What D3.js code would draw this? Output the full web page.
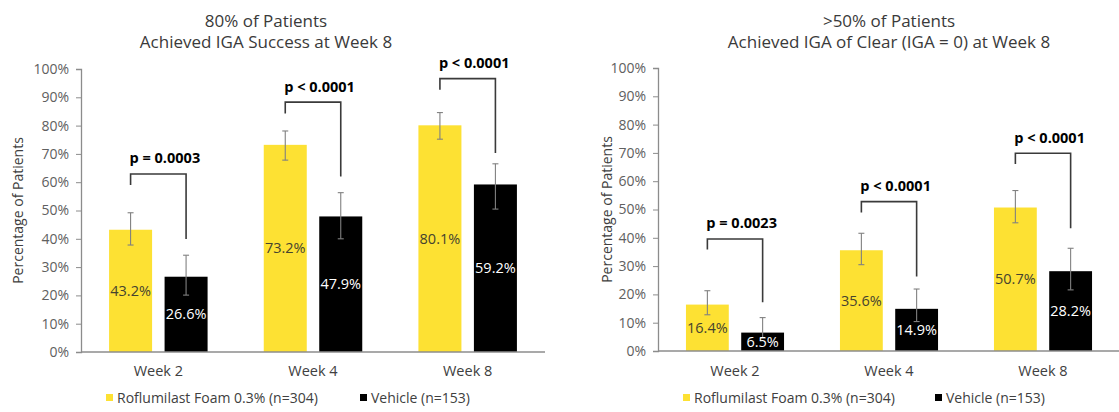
<!DOCTYPE html>
<html>
<head>
<meta charset="utf-8">
<script src="https://cdn.jsdelivr.net/npm/d3@7"></script>
<style>
  html, body { margin: 0; padding: 0; background: #fff; }
  svg { display: block; font-family: "Open Sans", "Noto Sans", sans-serif; }
</style>
</head>
<body>
<svg id="chart" width="1119" height="412"></svg>
<script>
// Shared categories, series and ticks
const weeks = ["Week 2", "Week 4", "Week 8"];
const seriesNames = ["Roflumilast Foam 0.3% (n=304)", "Vehicle (n=153)"];
const tickValues = [0, 10, 20, 30, 40, 50, 60, 70, 80, 90, 100];

// Panel A: IGA success
const successTitle = ["80% of Patients", "Achieved IGA Success at Week 8"];
const successFoam = [43.2, 73.2, 80.1];
const successVehicle = [26.6, 47.9, 59.2];
const successFoamCI = [[37.8, 49.2], [67.8, 78.1], [75.2, 84.6]];
const successVehicleCI = [[20.1, 34.2], [40.0, 56.3], [50.5, 66.5]];
const successP = ["p = 0.0003", "p < 0.0001", "p < 0.0001"];
// bracket levels: [top, foam end, vehicle end]
const successBracket = [[62.9, 59.0, 39.9], [88.3, 84.3, 62.0], [96.6, 92.7, 70.3]];

// Panel B: IGA of clear
const clearTitle = [">50% of Patients", "Achieved IGA of Clear (IGA = 0) at Week 8"];
const clearFoam = [16.4, 35.6, 50.7];
const clearVehicle = [6.5, 14.9, 28.2];
const clearFoamCI = [[12.8, 21.3], [30.5, 41.6], [45.3, 56.7]];
const clearVehicleCI = [[4.5, 11.8], [10.4, 21.9], [21.6, 36.3]];
const clearP = ["p = 0.0023", "p < 0.0001", "p < 0.0001"];
const clearBracket = [[39.6, 35.9, 17.2], [52.8, 48.9, 26.3], [69.9, 66.1, 43.4]];

const colors = ["#fde133", "#000000"];
const labelColors = ["#45432f", "#ffffff"];

const svg = d3.select("#chart");

function drawPanel(cfg) {
  const g = svg.append("g");
  const y = d3.scaleLinear().domain([0, 100]).range([cfg.yBottom, cfg.yTop]);
  const x0 = d3.scaleBand().domain(weeks).range([cfg.xLeft, cfg.xRight]).padding(0);
  const x1 = d3.scaleBand().domain([0, 1]).range([0, x0.bandwidth()])
    .paddingInner(0.225).paddingOuter(0.506);

  // title
  const title = g.append("text").attr("text-anchor", "middle")
    .attr("fill", "#3a3a3a").style("font-size", "17px");
  cfg.title.forEach((line, i) => {
    title.append("tspan").attr("x", cfg.titleX).attr("y", 26.5 + i * 21).text(line);
  });

  // y axis
  const yAxis = g.append("g").attr("transform", `translate(${cfg.xLeft},0)`)
    .call(d3.axisLeft(y).tickValues(tickValues).tickFormat(d => d + "%").tickSize(5).tickPadding(7));
  yAxis.select(".domain").attr("stroke", "#8c8c8c").attr("stroke-width", 1.3);
  yAxis.selectAll(".tick line").attr("stroke", "#8c8c8c");
  yAxis.selectAll(".tick text").attr("fill", "#606060").style("font-size", "14px")
    .style("font-family", "'Open Sans', sans-serif");

  g.append("text")
    .attr("transform", `translate(${cfg.yLabelX},${(cfg.yTop + cfg.yBottom) / 2}) rotate(-90)`)
    .attr("text-anchor", "middle").attr("dy", "0.35em")
    .attr("fill", "#404040").style("font-size", "14px")
    .text("Percentage of Patients");

  const series = [cfg.foam, cfg.vehicle];
  const cis = [cfg.foamCI, cfg.vehicleCI];

  // bars
  series.forEach((vals, s) => {
    g.selectAll(null).data(vals).enter().append("rect")
      .attr("x", (d, i) => x0(weeks[i]) + x1(s))
      .attr("y", d => y(d))
      .attr("width", x1.bandwidth())
      .attr("height", d => y(0) - y(d))
      .attr("fill", colors[s]);
  });

  // x axis line
  g.append("line")
    .attr("x1", cfg.xLeft).attr("x2", cfg.xRight)
    .attr("y1", y(0)).attr("y2", y(0))
    .attr("stroke", "#8c8c8c").attr("stroke-width", 1.3);

  // category labels
  g.selectAll(null).data(weeks).enter().append("text")
    .attr("x", d => x0(d) + x0.bandwidth() / 2)
    .attr("y", 375.5)
    .attr("text-anchor", "middle").attr("fill", "#404040")
    .style("font-size", "14.5px").text(d => d);

  // error bars
  const cap = 3;
  series.forEach((vals, s) => {
    cis[s].forEach((ci, i) => {
      const cx = x0(weeks[i]) + x1(s) + x1.bandwidth() / 2;
      const eg = g.append("g").attr("stroke", "#808080").attr("stroke-width", 1.1);
      eg.append("line").attr("x1", cx).attr("x2", cx).attr("y1", y(ci[0])).attr("y2", y(ci[1]));
      eg.append("line").attr("x1", cx - cap).attr("x2", cx + cap).attr("y1", y(ci[0])).attr("y2", y(ci[0]));
      eg.append("line").attr("x1", cx - cap).attr("x2", cx + cap).attr("y1", y(ci[1])).attr("y2", y(ci[1]));
    });
  });

  // value labels
  series.forEach((vals, s) => {
    g.selectAll(null).data(vals).enter().append("text")
      .attr("x", (d, i) => x0(weeks[i]) + x1(s) + x1.bandwidth() / 2)
      .attr("y", d => y(d / 2))
      .attr("dy", "0.35em")
      .attr("text-anchor", "middle")
      .attr("fill", labelColors[s])
      .style("font-size", "14.5px")
      .text(d => d.toFixed(1) + "%");
  });

  // significance brackets
  cfg.bracket.forEach((b, i) => {
    const xl = x0(weeks[i]) + x1(0) + x1.bandwidth() / 2;
    const xr = x0(weeks[i]) + x1(1) + x1.bandwidth() / 2;
    g.append("path")
      .attr("d", `M${xl},${y(b[1])}V${y(b[0])}H${xr}V${y(b[2])}`)
      .attr("fill", "none").attr("stroke", "#3a3a3a").attr("stroke-width", 1.6);
    g.append("text")
      .attr("x", xl - 1).attr("y", y(b[0]) - 10.5)
      .attr("fill", "#000").style("font-size", "14.5px").style("font-weight", "bold")
      .text(cfg.p[i]);
  });

  // legend
  const lg = g.append("g");
  seriesNames.forEach((name, s) => {
    lg.append("rect").attr("x", cfg.legendX[s]).attr("y", 394).attr("width", 7).attr("height", 7)
      .attr("fill", colors[s]);
    lg.append("text").attr("x", cfg.legendX[s] + 11).attr("y", 403)
      .attr("fill", "#404040").style("font-size", "14px").text(name);
  });
}

drawPanel({
  xLeft: 81, xRight: 545, yTop: 69, yBottom: 352,
  titleX: 266, yLabelX: 18, legendX: [106, 360],
  title: successTitle, foam: successFoam, vehicle: successVehicle,
  foamCI: successFoamCI, vehicleCI: successVehicleCI,
  p: successP, bracket: successBracket
});

drawPanel({
  xLeft: 658, xRight: 1120, yTop: 68, yBottom: 351,
  titleX: 889, yLabelX: 607, legendX: [683, 935],
  title: clearTitle, foam: clearFoam, vehicle: clearVehicle,
  foamCI: clearFoamCI, vehicleCI: clearVehicleCI,
  p: clearP, bracket: clearBracket
});
</script>
</body>
</html>
